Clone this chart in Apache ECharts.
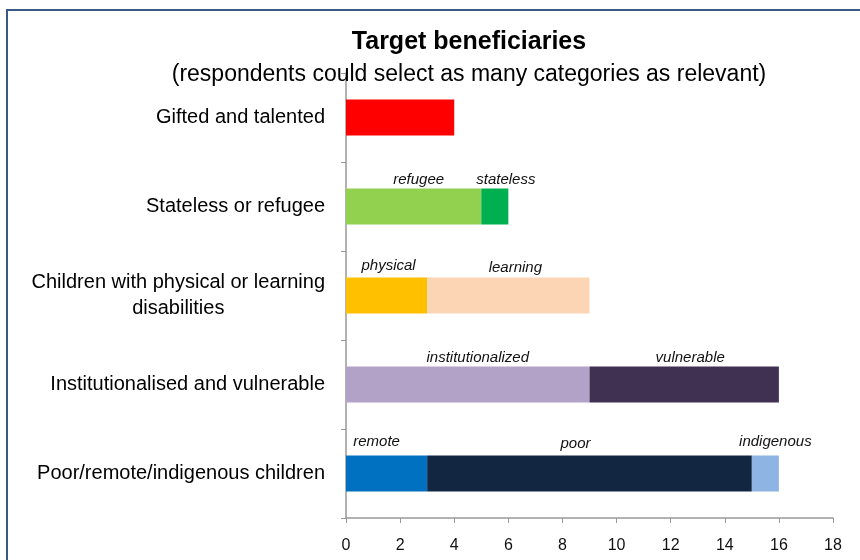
<!DOCTYPE html>
<html>
<head>
<meta charset="utf-8">
<script src="https://cdn.jsdelivr.net/npm/echarts@6/dist/echarts.min.js"></script>
<style>html,body{margin:0;padding:0;background:#fff}#c{width:860px;height:560px}</style>
</head>
<body>
<div id="c"></div>
<script>
// Categories top to bottom
var categories = ['Gifted and talented', 'Stateless or refugee', 'Children with physical or learning\ndisabilities', 'Institutionalised and vulnerable', 'Poor/remote/indigenous children'];
var xTicks = [0, 2, 4, 6, 8, 10, 12, 14, 16, 18];
// Segment values per category (null = not present)
var gifted            = [4, null, null, null, null];
var refugee           = [null, 5, null, null, null];
var stateless         = [null, 1, null, null, null];
var physical          = [null, null, 3, null, null];
var learning          = [null, null, 6, null, null];
var institutionalized = [null, null, null, 9, null];
var vulnerable        = [null, null, null, 7, null];
var remote            = [null, null, null, null, 3];
var poor              = [null, null, null, null, 12];
var indigenous        = [null, null, null, null, 1];

var FONT = 'Liberation Sans, Arial, sans-serif';

function seg(name, data, color, showLabel, off) {
  return {
    name: name, type: 'bar', stack: 'total', data: data, barWidth: 36,
    itemStyle: { color: color },
    label: {
      show: showLabel, position: 'top', distance: 1, offset: off || [0, 0],
      formatter: name, fontStyle: 'italic', fontFamily: FONT, fontSize: 15, color: '#111'
    }
  };
}

var chart = echarts.init(document.getElementById('c'), null, { renderer: 'canvas' });
chart.setOption({
  animation: false,
  backgroundColor: '#fff',
  title: {
    text: 'Target beneficiaries',
    subtext: '(respondents could select as many categories as relevant)',
    left: 464, top: 25, textAlign: 'center', itemGap: 8,
    textStyle: { fontFamily: FONT, fontWeight: 'bold', fontSize: 25, color: '#000' },
    subtextStyle: { fontFamily: FONT, fontSize: 23, color: '#000' }
  },
  graphic: [{
    type: 'rect', shape: { x: 7, y: 10, width: 900, height: 600 },
    style: { fill: 'none', stroke: '#3A5A83', lineWidth: 2 }, silent: true, z: 100
  }],
  grid: { left: 346, right: 27, top: 73, bottom: 42, containLabel: false },
  xAxis: {
    type: 'value', min: 0, max: 18, interval: 2,
    axisLine: { show: true, lineStyle: { color: '#999', width: 1.5 } },
    axisTick: { show: true, length: 5, lineStyle: { color: '#999' } },
    splitLine: { show: false },
    axisLabel: { margin: 20, fontFamily: FONT, fontSize: 16, color: '#111',
      formatter: function (v) { return xTicks.indexOf(v) >= 0 ? String(v) : ''; } }
  },
  yAxis: {
    type: 'category', inverse: true, data: categories,
    axisLine: { show: true, lineStyle: { color: '#999', width: 1.5 } },
    axisTick: { show: true, length: 5, lineStyle: { color: '#999' } },
    axisLabel: {
      margin: 21, fontFamily: FONT, fontSize: 20, color: '#000', lineHeight: 26,
      formatter: function (v) {
        if (v.indexOf('\n') >= 0) {
          return v.split('\n').map(function (s) { return '{c|' + s + '}'; }).join('\n');
        }
        return v;
      },
      rich: { c: { align: 'center', fontFamily: FONT, fontSize: 20, color: '#000', lineHeight: 26 } }
    }
  },
  series: [
    seg('gifted', gifted, '#FF0000', false),
    seg('refugee', refugee, '#92D050', true, [5, 0]),
    seg('stateless', stateless, '#00B050', true, [11, 0]),
    seg('physical', physical, '#FFC000', true, [2, -3]),
    seg('learning', learning, '#FCD5B5', true, [7, -1]),
    seg('institutionalized', institutionalized, '#B3A2C7', true, [10, 0]),
    seg('vulnerable', vulnerable, '#403152', true, [6, 0]),
    seg('remote', remote, '#0070C0', true, [-10, -5]),
    seg('poor', poor, '#122642', true, [-14, -3]),
    seg('indigenous', indigenous, '#8EB4E3', true, [10, -5])
  ]
});
</script>
</body>
</html>
